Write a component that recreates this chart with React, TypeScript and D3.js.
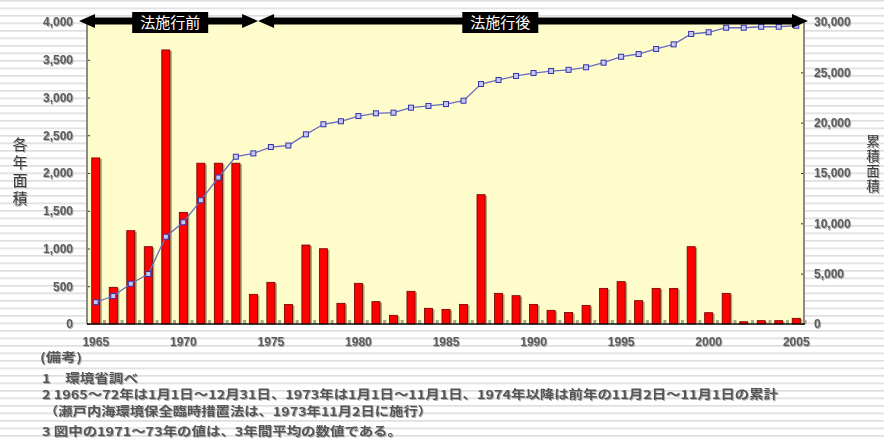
import React, { useEffect, useRef } from 'react';
import * as d3 from 'd3';

// 年 (categories)
const years = [
  1965, 1966, 1967, 1968, 1969, 1970, 1971, 1972, 1973, 1974, 1975,
  1976, 1977, 1978, 1979, 1980, 1981, 1982, 1983, 1984, 1985,
  1986, 1987, 1988, 1989, 1990, 1991, 1992, 1993, 1994, 1995,
  1996, 1997, 1998, 1999, 2000, 2001, 2002, 2003, 2004, 2005,
];
// 各年面積 (bars, left axis)
const annualArea = [
  2200, 486, 1236, 1024, 3630, 1479, 2130, 2130, 2130, 393, 552,
  260, 1046, 997, 274, 539, 296, 115, 433, 208, 194,
  260, 1713, 406, 375, 260, 181, 152, 247, 472, 561,
  309, 472, 472, 1024, 150, 406, 30, 44, 44, 75,
];
// 累積面積 (line, right axis)
const cumulativeArea = [
  2160, 2780, 4000, 4970, 8670, 10100, 12290, 14550, 16620, 16950, 17580,
  17730, 18840, 19840, 20140, 20660, 20930, 20990, 21490, 21660, 21850,
  22180, 23840, 24240, 24640, 24930, 25130, 25250, 25500, 25960, 26550,
  26820, 27320, 27780, 28810, 28980, 29430, 29430, 29530, 29530, 29630,
];
const leftTicks = [0, 500, 1000, 1500, 2000, 2500, 3000, 3500, 4000];
const rightTicks = [0, 5000, 10000, 15000, 20000, 25000, 30000];
const xTicks = [1965, 1970, 1975, 1980, 1985, 1990, 1995, 2000, 2005];
const leftTitle = '各年面積';
const rightTitle = '累積面積';
const periodLabels = ['法施行前', '法施行後'];
const notes = [
  '(備考)',
  '1　環境省調べ',
  '2  1965～72年は1月1日～12月31日、1973年は1月1日～11月1日、1974年以降は前年の11月2日～11月1日の累計',
  '（瀬戸内海環境保全臨時措置法は、1973年11月2日に施行）',
  '3  図中の1971～73年の値は、3年間平均の数値である。',
];

const W = 884;
const H = 439;
const NUM_FONT = '"Liberation Sans", Arial, sans-serif';
const JP_FONT = '"Noto Sans CJK JP", "Noto Sans", sans-serif';

const App = () => {
  const svgRef = useRef<SVGSVGElement>(null);

  useEffect(() => {
    const svg = d3.select(svgRef.current);
    svg.selectAll('*').remove();

    const left = 87;
    const right = 805;
    const top = 22;
    const bottom = 324;

    const x = d3.scaleBand<number>().domain(years).range([left, right]).padding(0);
    const yL = d3.scaleLinear().domain([0, 4000]).range([bottom, top]);
    const yR = d3.scaleLinear().domain([0, 30000]).range([bottom, top]);
    const bw = x.bandwidth();
    const barW = bw * 0.46;

    // striped page background
    const defs = svg.append('defs');
    const pat = defs
      .append('pattern')
      .attr('id', 'stripes')
      .attr('width', 10)
      .attr('height', 7.5)
      .attr('patternUnits', 'userSpaceOnUse');
    pat.append('rect').attr('width', 10).attr('height', 7.5).attr('fill', '#ffffff');
    pat.append('rect').attr('y', 0).attr('width', 10).attr('height', 1.6).attr('fill', '#dedede');
    const sh = defs.append('filter').attr('id', 'soft').attr('x', '-10%').attr('y', '-20%').attr('width', '130%').attr('height', '150%');
    sh.append('feDropShadow').attr('dx', 1).attr('dy', 1).attr('stdDeviation', 0.6).attr('flood-color', '#999').attr('flood-opacity', 0.8);

    svg.append('rect').attr('width', W).attr('height', H).attr('fill', 'url(#stripes)');

    // plot area
    svg.append('rect')
      .attr('x', left)
      .attr('y', top)
      .attr('width', right - left)
      .attr('height', bottom - top)
      .attr('fill', '#fefccb');

    // bars (shadow + red body)
    const bars = svg.append('g');
    bars.selectAll('rect.shadow')
      .data(years)
      .join('rect')
      .attr('class', 'shadow')
      .attr('x', (d) => (x(d) as number) + (bw - barW) / 2 + 2)
      .attr('y', (d, i) => yL(annualArea[i]) + 1)
      .attr('width', barW)
      .attr('height', (d, i) => bottom - yL(annualArea[i]) - 1)
      .attr('fill', '#8c8a5c')
      .attr('opacity', 0.75);
    bars.selectAll('rect.bar')
      .data(years)
      .join('rect')
      .attr('class', 'bar')
      .attr('x', (d) => (x(d) as number) + (bw - barW) / 2)
      .attr('y', (d, i) => yL(annualArea[i]))
      .attr('width', barW)
      .attr('height', (d, i) => bottom - yL(annualArea[i]))
      .attr('fill', '#ff0000')
      .attr('stroke', '#6a0000')
      .attr('stroke-width', 0.8);

    // small category ticks at the baseline
    svg.append('g')
      .selectAll('rect')
      .data(years)
      .join('rect')
      .attr('x', (d) => (x(d) as number) + bw - 1.5)
      .attr('y', bottom - 4)
      .attr('width', 3)
      .attr('height', 4)
      .attr('fill', '#a8a683');

    // cumulative line
    const line = d3.line<number>()
      .x((d, i) => (x(years[i]) as number) + bw / 2)
      .y((d) => yR(d));
    svg.append('path')
      .datum(cumulativeArea)
      .attr('d', line)
      .attr('fill', 'none')
      .attr('stroke', '#6b6bbf')
      .attr('stroke-width', 1.3);
    svg.append('g')
      .selectAll('rect')
      .data(cumulativeArea)
      .join('rect')
      .attr('x', (d, i) => (x(years[i]) as number) + bw / 2 - 2.5)
      .attr('y', (d) => yR(d) - 2.5)
      .attr('width', 5)
      .attr('height', 5)
      .attr('fill', '#c4c8fa')
      .attr('stroke', '#3434a8')
      .attr('stroke-width', 1);

    // axes
    const styleAxis = (g) => {
      g.selectAll('text')
        .attr('font-family', NUM_FONT)
        .attr('font-size', 12)
        .attr('font-weight', 'bold')
        .attr('fill', '#5c5c5c')
        .attr('filter', 'url(#soft)');
      g.selectAll('.tick line').attr('stroke', '#333');
      g.select('.domain').remove();
    };
    const gl = svg.append('g')
      .attr('transform', `translate(${left},0)`)
      .call(d3.axisLeft(yL).tickValues(leftTicks).tickFormat(d3.format(',')).tickSizeInner(-3).tickSizeOuter(0).tickPadding(14));
    styleAxis(gl);
    const gr = svg.append('g')
      .attr('transform', `translate(${right - 1},0)`)
      .call(d3.axisRight(yR).tickValues(rightTicks).tickFormat(d3.format(',')).tickSizeInner(-3).tickSizeOuter(0).tickPadding(10));
    styleAxis(gr);
    const gb = svg.append('g')
      .attr('transform', `translate(0,${bottom})`)
      .call(d3.axisBottom(x).tickValues(xTicks).tickSize(0).tickPadding(13));
    styleAxis(gb);

    svg.append('line').attr('x1', left).attr('x2', left).attr('y1', top).attr('y2', bottom).attr('stroke', '#8a8a8a').attr('stroke-width', 2);
    svg.append('line').attr('x1', right - 1).attr('x2', right - 1).attr('y1', top).attr('y2', bottom).attr('stroke', '#8a8a8a').attr('stroke-width', 2);
    svg.append('line').attr('x1', left).attr('x2', right).attr('y1', bottom).attr('y2', bottom).attr('stroke', '#111').attr('stroke-width', 1.5);

    // period arrows
    const cy = 21;
    const t = 7;
    const hl = 16;
    const hh = 7;
    const arrow = (x0, x1) =>
      `M${x0},${cy}L${x0 + hl},${cy - hh}L${x0 + hl},${cy - t / 2}L${x1 - hl},${cy - t / 2}L${x1 - hl},${cy - hh}L${x1},${cy}` +
      `L${x1 - hl},${cy + hh}L${x1 - hl},${cy + t / 2}L${x0 + hl},${cy + t / 2}L${x0 + hl},${cy + hh}Z`;
    const start = (x(1965) as number) - 8;
    const split = (x(1974) as number) + bw * 0.77;
    const end = (x(2005) as number) + bw + 3;
    svg.append('path').attr('d', arrow(start, split)).attr('fill', '#000');
    svg.append('path').attr('d', arrow(split, end)).attr('fill', '#000');

    const labelCenters = [(x(1969) as number) + bw * 0.75, (x(1988) as number) + bw * 0.6];
    periodLabels.forEach((lab, i) => {
      svg.append('rect')
        .attr('x', labelCenters[i] - 38)
        .attr('y', 12)
        .attr('width', 76)
        .attr('height', 21)
        .attr('fill', '#000');
      svg.append('text')
        .attr('x', labelCenters[i])
        .attr('y', 28)
        .attr('text-anchor', 'middle')
        .attr('font-family', JP_FONT)
        .attr('font-size', 15)
        .attr('fill', '#fff')
        .text(lab);
    });

    // axis titles (vertical writing)
    svg.append('text')
      .attr('x', 20)
      .attr('y', 137)
      .attr('writing-mode', 'vertical-rl')
      .attr('font-family', JP_FONT)
      .attr('font-size', 15)
      .attr('letter-spacing', 3)
      .attr('fill', '#3a3a3a')
      .attr('filter', 'url(#soft)')
      .text(leftTitle);
    svg.append('text')
      .attr('x', 873)
      .attr('y', 134)
      .attr('writing-mode', 'vertical-rl')
      .attr('font-family', JP_FONT)
      .attr('font-size', 13.5)
      .attr('letter-spacing', 1.5)
      .attr('fill', '#3a3a3a')
      .attr('filter', 'url(#soft)')
      .text(rightTitle);

    // notes
    const noteX = [40, 42, 42, 44, 42];
    const noteY = [362, 383, 399, 416, 436];
    const noteLen = [42, 96, 736, 388, 360];
    notes.forEach((n, i) => {
      svg.append('text')
        .attr('x', noteX[i])
        .attr('y', noteY[i])
        .attr('font-family', JP_FONT)
        .attr('font-size', 12)
        .attr('font-weight', 'bold')
        .attr('fill', '#555')
        .attr('filter', 'url(#soft)')
        .attr('textLength', noteLen[i])
        .attr('lengthAdjust', 'spacingAndGlyphs')
        .text(n);
    });
  }, []);

  return (
    <div style={{ position: 'absolute', left: 0, top: 0, background: 'white' }}>
      <svg ref={svgRef} width={W} height={H} style={{ display: 'block' }} />
    </div>
  );
};

export default App;
